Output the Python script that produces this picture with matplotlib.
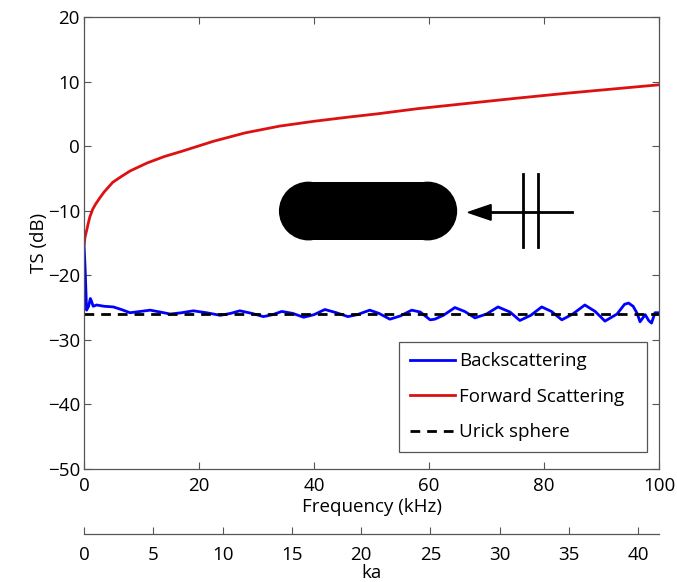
"""TS vs frequency: back/forward scattering of a rod-shaped target, with ka axis below."""
import matplotlib
matplotlib.use("Agg")
import matplotlib.pyplot as plt
from matplotlib.patches import Ellipse, Rectangle, Polygon

plt.rcParams["font.family"] = ["Open Sans", "DejaVu Sans"]
plt.rcParams["font.size"] = 13.5

# forward scattering (red)
fwd_f = [0.05, 0.2, 0.5, 0.7, 1.0, 1.5, 2.0, 2.8, 3.5, 4.0, 5.0, 6.5, 8.0, 11.0, 14.0,
         17.0, 22.5, 28.0, 34.0, 40.0, 46.0, 51.0, 58.0, 67.0, 75.0, 84.0, 92.0, 100.0]
fwd_ts = [-15.0, -14.0, -12.9, -12.1, -11.0, -9.8, -9.0, -7.95, -7.1, -6.6, -5.6, -4.7,
          -3.85, -2.6, -1.6, -0.8, 0.75, 2.05, 3.1, 3.85, 4.5, 5.0, 5.8, 6.65, 7.4, 8.2,
          8.85, 9.5]

# backscattering (blue)
back_f = [0, 0.2, 0.45, 0.8, 1.1, 1.3, 1.6, 2.2, 3.5, 5.1, 6.5, 8.0, 9.8, 11.5, 13.3,
          15.0, 17.0, 19.0, 21.3, 23.7, 25.5, 27.1, 29.2, 31.2, 32.8, 34.4, 36.3, 38.2,
          40.0, 41.9, 43.9, 45.9, 47.5, 49.7, 51.3, 53.2, 55.0, 57.0, 58.5, 60.2, 61.0,
          62.5, 64.5, 66.2, 68.0, 70.0, 72.0, 74.1, 75.8, 77.7, 79.6, 81.3, 83.1, 85.0,
          87.1, 88.9, 90.6, 92.7, 94.0, 94.7, 95.5, 96.2, 96.7, 97.6, 98.2, 98.7, 99.3, 100]
back_ts = [-15.1, -19.0, -25.4, -24.8, -23.6, -24.0, -24.8, -24.6, -24.8, -24.9, -25.3,
           -25.8, -25.6, -25.4, -25.7, -26.0, -25.8, -25.5, -25.8, -26.2, -25.9, -25.5,
           -25.9, -26.4, -26.1, -25.6, -25.9, -26.5, -26.1, -25.3, -25.8, -26.4, -26.1,
           -25.4, -25.9, -26.8, -26.3, -25.4, -25.7, -26.9, -26.8, -26.2, -25.0, -25.6,
           -26.6, -26.0, -24.9, -25.7, -27.0, -26.2, -24.9, -25.6, -26.9, -26.0, -24.6,
           -25.6, -27.1, -26.0, -24.5, -24.3, -24.8, -25.9, -27.2, -26.1, -27.0, -27.4,
           -25.8, -25.8]

# Urick sphere reference level
urick_f = [0, 100]
urick_ts = [-26.0, -26.0]

x_ticks = [0, 20, 40, 60, 80, 100]
y_ticks = [-50, -40, -30, -20, -10, 0, 10, 20]
ka_ticks = [0, 5, 10, 15, 20, 25, 30, 35, 40]
ka_max = 41.5  # ka at 100 kHz

SPINE = "#555555"
LW = 2.0

fig = plt.figure(figsize=(6.77, 5.82), dpi=100)
ax = fig.add_axes([84 / 677, 1 - 469 / 582, 575 / 677, 452 / 582])

ax.plot(back_f, back_ts, color="#0000ff", lw=LW, label="Backscattering")
ax.plot(fwd_f, fwd_ts, color="#dd1111", lw=LW, label="Forward Scattering")
ax.plot(urick_f, urick_ts, color="black", lw=LW, ls=(0, (3.5, 2.5)), label="Urick sphere")

ax.set_xlim(0, 100); ax.set_ylim(-50, 20)
ax.set_xticks(x_ticks); ax.set_yticks(y_ticks)
ax.tick_params(direction="in", length=5, top=True, right=True, color=SPINE, pad=3)
ax.tick_params(axis="x", pad=6)
for s in ax.spines.values():
    s.set_color(SPINE); s.set_linewidth(0.9)
ax.set_xlabel("Frequency (kHz)", labelpad=2)
ax.set_ylabel("TS (dB)", labelpad=0)

# target sketch: rod (stadium shape) + incident wave arrow
rx, ry = 5.14, 4.55            # end-cap radius in x / y data units (round on screen)
x0, x1, yc = 33.9, 64.9, -10.05
for cx in (x0 + rx, x1 - rx):
    ax.add_patch(Ellipse((cx, yc), 2 * rx, 2 * ry, facecolor="black", edgecolor="none", zorder=3))
ax.add_patch(Rectangle((x0 + rx, yc - ry), x1 - x0 - 2 * rx, 2 * ry,
                       facecolor="black", edgecolor="none", zorder=3))
ax.plot([70.0, 84.8], [-10.26, -10.26], color="black", lw=LW)
ax.add_patch(Polygon([(66.8, -10.26), (70.8, -9.05), (70.8, -11.47)], closed=True,
                     facecolor="black", edgecolor="black"))
for xb in (76.4, 79.0):
    ax.plot([xb, xb], [-4.3, -15.6], color="black", lw=LW)

leg = ax.legend(loc="lower left", bbox_to_anchor=(399 / 677, 1 - 452 / 582, 248 / 677, 0.1),
                bbox_transform=fig.transFigure, mode="expand", borderaxespad=0,
                fancybox=False, framealpha=1, edgecolor=SPINE, handlelength=2.4,
                handletextpad=0.25, labelspacing=0.93, borderpad=0.57)
leg.get_frame().set_linewidth(0.9)

# second x axis: ka
ax2 = fig.add_axes([84 / 677, 1 - 534 / 582, 575 / 677, 1e-4])
ax2.set_xlim(0, ka_max)
ax2.set_xticks(ka_ticks)
ax2.set_yticks([])
for k in ("left", "right", "top"):
    ax2.spines[k].set_visible(False)
ax2.spines["bottom"].set_color(SPINE); ax2.spines["bottom"].set_linewidth(0.9)
ax2.tick_params(axis="x", direction="in", length=5, color=SPINE, pad=9)
ax2.set_xlabel("ka", labelpad=0)

fig.savefig("out.png", dpi=100)
